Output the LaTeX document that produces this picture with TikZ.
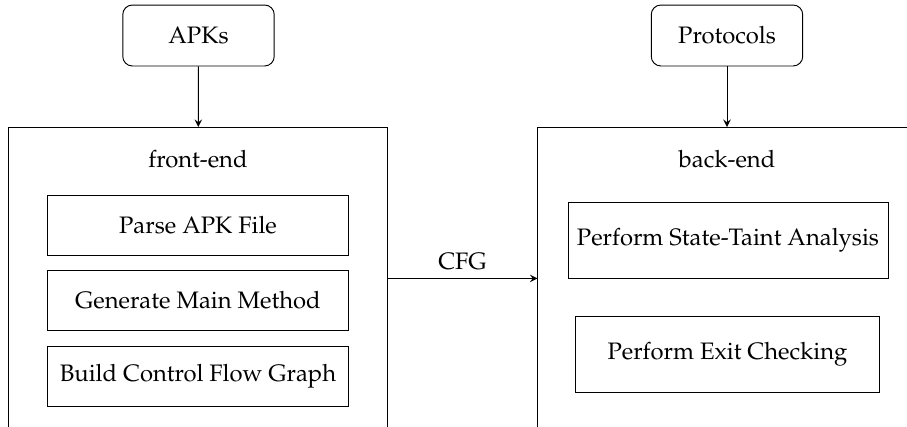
\documentclass[tikz,border=0pt]{standalone}
\usepackage[T1]{fontenc}
\usepackage{mathpazo}
\usepackage{tikz}
\usetikzlibrary{arrows}

\begin{document}
\begin{tikzpicture}[x=0.42pt, y=-0.42pt, >=stealth,
    input/.style={draw, rounded corners, minimum width=63.6pt, minimum height=25.6pt},
    stage/.style={draw, anchor=north, minimum width=158.8pt, minimum height=126.8pt},
    task/.style={draw, minimum height=25.2pt}]
  \useasboundingbox (0,0) rectangle (907,427);
  \clip (0,0) rectangle (907,427);

  \node [input] (apk) at (198.5,35.5) {APKs};
  \node [input] (proto) at (727,35.5) {Protocols};

  \node [stage] (front) at (198,127) {};
  \node [stage] (back) at (727,127) {};
  \node (fe) at (198,159) {front-end};
  \node (be) at (727,159) {back-end};

  \node [task, minimum width=126.8pt] (parse) at (198,225) {Parse APK File};
  \node [task, minimum width=126.8pt] (gen) at (198,300.5) {Generate Main Method};
  \node [task, minimum width=126.8pt] (build) at (198,376) {Build Control Flow Graph};
  \node [task, minimum width=134.4pt, minimum height=31.9pt] (taint) at (728,240) {Perform State-Taint Analysis};
  \node [task, minimum width=127.3pt, minimum height=31.9pt] (exit) at (727.5,354) {Perform Exit Checking};

  \path[->]
  (apk) edge (front)
  (proto) edge (back)
  (front) edge node [above] {CFG} (back)
  ;
\end{tikzpicture}
\end{document}
